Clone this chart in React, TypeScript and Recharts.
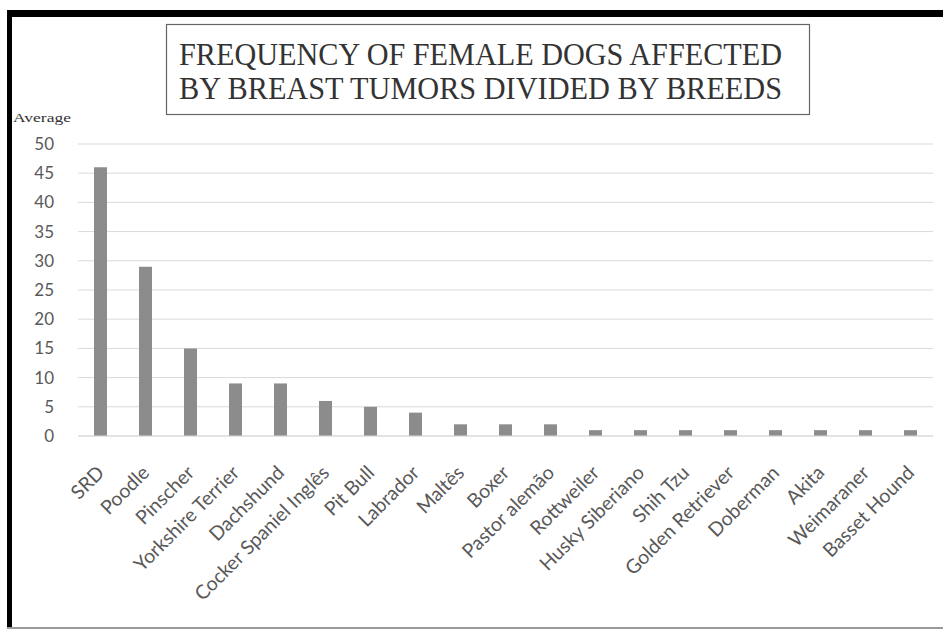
import { Bar, BarChart, CartesianGrid, XAxis, YAxis } from "recharts"

const breeds = [
  "SRD",
  "Poodle",
  "Pinscher",
  "Yorkshire Terrier",
  "Dachshund",
  "Cocker Spaniel Inglês",
  "Pit Bull",
  "Labrador",
  "Maltês",
  "Boxer",
  "Pastor alemão",
  "Rottweiler",
  "Husky Siberiano",
  "Shih Tzu",
  "Golden Retriever",
  "Doberman",
  "Akita",
  "Weimaraner",
  "Basset Hound",
]

const averages = [46, 29, 15, 9, 9, 6, 5, 4, 2, 2, 2, 1, 1, 1, 1, 1, 1, 1, 1]

const yTicks = [0, 5, 10, 15, 20, 25, 30, 35, 40, 45, 50]

const titleLines = ["FREQUENCY OF FEMALE DOGS AFFECTED", "BY BREAST TUMORS DIVIDED BY BREEDS"]

const data = breeds.map((name, i) => ({ name, average: averages[i] }))

const tickFont = "Lato, 'Open Sans', sans-serif"

function BreedTick(props: any) {
  const { x, y, payload } = props
  return (
    <g transform={`translate(${x + 5},${y + 38})`}>
      <text
        textAnchor="end"
        transform="rotate(-45)"
        fill="#595959"
        fontSize={19.5}
        fontFamily={tickFont}
      >
        {payload.value}
      </text>
    </g>
  )
}

export default function App() {
  return (
    <div style={{ position: "absolute", left: 0, top: 0, width: 943, height: 630, background: "#fff", overflow: "hidden" }}>
      {/* frame */}
      <div style={{ position: "absolute", left: 7, top: 10, width: 936, height: 7, background: "#000" }} />
      <div style={{ position: "absolute", left: 7, top: 10, width: 5, height: 618, background: "#000" }} />
      <div style={{ position: "absolute", left: 7, top: 627, width: 936, height: 2, background: "#9a9a9a" }} />

      <BarChart
        width={943}
        height={630}
        data={data}
        margin={{ top: 144, right: 10, left: 0, bottom: 0 }}
        barSize={13}
        style={{ position: "absolute", left: 0, top: 0 }}
      >
        <CartesianGrid vertical={false} stroke="#d9d9d9" />
        <XAxis
          dataKey="name"
          interval={0}
          tickLine={false}
          tickSize={0}
          tickMargin={0}
          axisLine={{ stroke: "#d9d9d9" }}
          tick={<BreedTick />}
          height={194}
        />
        <YAxis
          domain={[0, 50]}
          ticks={yTicks}
          interval={0}
          width={78}
          axisLine={false}
          tickLine={false}
          tickSize={0}
          tickMargin={24}
          tick={{ fill: "#595959", fontSize: 17, fontFamily: tickFont }}
        />
        <Bar dataKey="average" fill="#8c8c8c" isAnimationActive={false} />
      </BarChart>

      <svg width={943} height={630} style={{ position: "absolute", left: 0, top: 0, pointerEvents: "none" }}>
        <rect x={166.5} y={24.5} width={643} height={90} fill="none" stroke="#666" strokeWidth={1.2} />
        {titleLines.map((line, i) => (
          <text
            key={line}
            x={179}
            y={65 + i * 34}
            textLength={603}
            lengthAdjust="spacingAndGlyphs"
            fontFamily="'Liberation Serif', 'Times New Roman', serif"
            fontSize={31}
            fill="#333"
          >
            {line}
          </text>
        ))}
        <text
          x={13}
          y={122}
          textLength={58}
          lengthAdjust="spacingAndGlyphs"
          fontFamily="'Liberation Serif', 'Times New Roman', serif"
          fontSize={13}
          fill="#333"
        >
          Average
        </text>
      </svg>
    </div>
  )
}
